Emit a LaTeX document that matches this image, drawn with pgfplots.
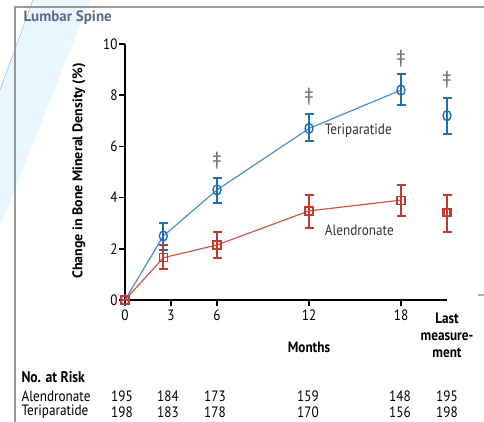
\documentclass[border=0pt]{standalone}
\usepackage{fontspec}
\setmainfont{PT Sans}[FakeStretch=0.88]
\newfontfamily\labfont{PT Sans}
\usepackage{pgfplots}
\pgfplotsset{compat=1.18}
\usepackage{pgfplotstable}
\definecolor{tblue}{HTML}{1F6FB4}
\definecolor{tbluel}{HTML}{4A8FCC}
\definecolor{ared}{HTML}{C23B2E}
\definecolor{aredl}{HTML}{D0574B}
\definecolor{slate}{HTML}{5A6A8A}
\definecolor{dag}{HTML}{6E6266}

\pgfplotstableread{
x y ep em
0 0 0 0
2.5 2.5 0.50 0.55
6 4.3 0.48 0.50
12 6.7 0.55 0.50
18 8.2 0.63 0.60
}\teri
\pgfplotstableread{
x y ep em
21 7.2 0.70 0.73
}\terilast
\pgfplotstableread{
x y ep em
0 0 0 0
2.5 1.65 0.50 0.45
6 2.15 0.50 0.50
12 3.48 0.62 0.66
18 3.9 0.58 0.60
}\alen
\pgfplotstableread{
x y ep em
21 3.41 0.69 0.76
}\alenlast

\begin{document}
\begin{tikzpicture}
\path[use as bounding box] (0pt,0pt) rectangle (484pt,422pt);
% faint highlight band
\fill[blue!30!cyan!14, opacity=0.6] (33pt,422pt) -- (90pt,422pt) -- (5pt,207pt) -- (0pt,197pt) -- (0pt,332pt) -- cycle;
\draw[tbluel!55, line width=0.6pt] (33pt,422pt) -- (0pt,332pt);
% frame
\draw[gray!80, line width=2.5pt] (15pt,0pt) -- (15pt,415pt) -- (484pt,415pt);
\draw[gray!60, line width=2pt] (478pt,127pt) -- (484pt,127pt);
\node[anchor=west, font=\labfont\bfseries\fontsize{15}{17}\selectfont, text=slate] at (20pt,404pt) {Lumbar Spine};

\begin{axis}[
  at={(125pt,122pt)}, anchor=south west,
  scale only axis, width=322pt, height=256pt,
  xmin=0, xmax=21, ymin=0, ymax=10,
  axis x line=bottom, axis y line=left,
  axis line style={-, line width=1.8pt, black},
  clip=false,
  xtick={0,3,6,12,18},
  ytick={0,2,4,6,8,10},
  tick align=outside,
  major tick length=6pt,
  tick style={line width=1.5pt, black},
  /pgf/number format/assume math mode=true,
  tick label style={font=\fontsize{15}{17}\selectfont},
  xticklabel style={yshift=0pt},
  yticklabel style={xshift=2pt},
]
\addplot[tbluel, line width=1.2pt, mark=o, mark size=5pt,
  mark options={xscale=0.8, fill=white, draw=tblue, line width=1.4pt},
  error bars/.cd, y dir=both, y explicit, error mark=|,
  error bar style={tblue, line width=2pt},
  error mark options={tblue, mark size=4.5pt, line width=2pt}]
  table[x=x, y=y, y error plus=ep, y error minus=em] {\teri};
\addplot[only marks, mark=o, mark size=5pt,
  mark options={xscale=0.8, fill=white, draw=tblue, line width=1.4pt},
  error bars/.cd, y dir=both, y explicit, error mark=|,
  error bar style={tblue, line width=2pt},
  error mark options={tblue, mark size=4.5pt, line width=2pt}]
  table[x=x, y=y, y error plus=ep, y error minus=em] {\terilast};
\addplot[aredl, line width=1.2pt, mark=square, mark size=4pt,
  mark options={fill=white, draw=ared, line width=1.3pt},
  error bars/.cd, y dir=both, y explicit, error mark=|,
  error bar style={ared, line width=2pt},
  error mark options={ared, mark size=4.5pt, line width=2pt}]
  table[x=x, y=y, y error plus=ep, y error minus=em] {\alen};
\addplot[only marks, mark=square, mark size=3.5pt,
  mark options={fill=white, draw=ared, line width=2.2pt},
  error bars/.cd, y dir=both, y explicit, error mark=|,
  error bar style={ared, line width=2pt},
  error mark options={ared, mark size=4.5pt, line width=2pt}]
  table[x=x, y=y, y error plus=ep, y error minus=em] {\alenlast};

% significance markers
\node[text=dag, font=\labfont\fontsize{19}{21}\selectfont] at (axis cs:6,5.43) {‡};
\node[text=dag, font=\labfont\fontsize{19}{21}\selectfont] at (axis cs:12,7.95) {‡};
\node[text=dag, font=\labfont\fontsize{19}{21}\selectfont] at (axis cs:18,9.44) {‡};
\node[text=dag, font=\labfont\fontsize{19}{21}\selectfont] at (axis cs:21,8.6) {‡};
\node[anchor=west, text=black!80, font=\fontsize{15}{17}\selectfont] at (axis cs:12.8,6.6) {Teriparatide};
\node[anchor=west, text=black!80, font=\fontsize{15}{17}\selectfont] at (axis cs:12.8,2.73) {Alendronate};
\end{axis}

\node[font=\bfseries\fontsize{15}{17}\selectfont] at (309pt,75pt) {Months};
\node[anchor=north, align=center, font=\bfseries\fontsize{15}{17}\selectfont] at (447pt,113pt) {Last\\measure-\\ment};
\node[rotate=90, font=\labfont\bfseries\fontsize{14}{16}\selectfont] at (79pt,251pt) {Change in Bone Mineral Density (\%)};

% numbers at risk
\node[anchor=west, font=\bfseries\fontsize{15.5}{17}\selectfont] at (18pt,45pt) {No. at Risk};
\node[anchor=west, font=\fontsize{15}{17}\selectfont] at (18pt,26pt) {Alendronate};
\node[anchor=west, font=\fontsize{15}{17}\selectfont] at (18pt,10pt) {Teriparatide};
\foreach \px/\a/\t in {122/195/198, 168/184/183, 215/173/178, 308/159/170, 400/148/156, 447/195/198}{
  \node[font=\fontsize{15}{17}\selectfont] at (\px pt,26pt) {\a};
  \node[font=\fontsize{15}{17}\selectfont] at (\px pt,10pt) {\t};
}
\end{tikzpicture}
\end{document}
